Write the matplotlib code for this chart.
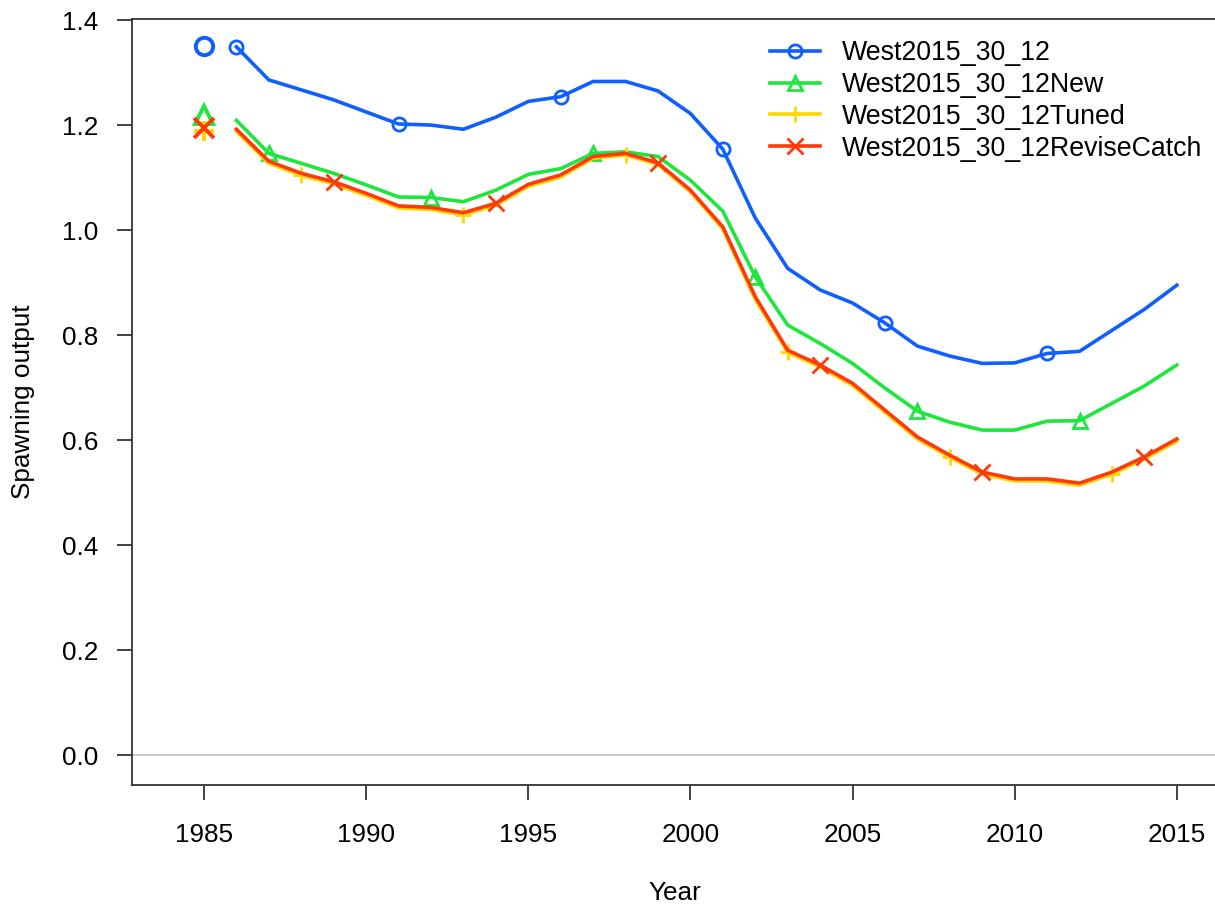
import matplotlib
matplotlib.use("Agg")
import matplotlib.pyplot as plt
import numpy as np

plt.rcParams['font.family'] = ['Liberation Sans', 'DejaVu Sans']

years = list(range(1986, 2016))
virgin_year = 1985

labels = ["West2015_30_12", "West2015_30_12New",
          "West2015_30_12Tuned", "West2015_30_12ReviseCatch"]
colors = ["#0f5fff", "#1ee63c", "#ffd800", "#ff3a0a"]
markers = ["o", "^", "+", "x"]
msizes = [9.5, 10, 12, 11]
offsets = [0, 1, 2, 3]

virgin = [1.350, 1.220, 1.188, 1.195]

base = [1.349, 1.286, 1.267, 1.248, 1.225, 1.202, 1.200, 1.192, 1.215, 1.245,
        1.254, 1.283, 1.283, 1.265, 1.222, 1.154, 1.023, 0.927, 0.886, 0.861,
        0.823, 0.779, 0.760, 0.746, 0.747, 0.765, 0.769, 0.809, 0.849, 0.895]
new = [1.209, 1.146, 1.127, 1.108, 1.086, 1.063, 1.062, 1.054, 1.076, 1.106,
       1.117, 1.146, 1.149, 1.140, 1.095, 1.036, 0.911, 0.819, 0.784, 0.746,
       0.699, 0.655, 0.634, 0.619, 0.619, 0.636, 0.637, 0.670, 0.703, 0.743]
tuned = [1.188, 1.127, 1.104, 1.088, 1.066, 1.042, 1.039, 1.029, 1.047, 1.083,
         1.101, 1.137, 1.143, 1.125, 1.073, 1.002, 0.868, 0.767, 0.739, 0.704,
         0.653, 0.602, 0.567, 0.535, 0.522, 0.522, 0.514, 0.535, 0.564, 0.598]
revise = [1.192, 1.131, 1.108, 1.092, 1.070, 1.046, 1.043, 1.033, 1.051, 1.087,
          1.105, 1.140, 1.146, 1.128, 1.076, 1.006, 0.873, 0.771, 0.743, 0.708,
          0.657, 0.606, 0.571, 0.539, 0.526, 0.526, 0.518, 0.539, 0.568, 0.602]
series = [base, new, tuned, revise]

W, H = 1215, 908
fig = plt.figure(figsize=(W / 100, H / 100), dpi=100)
ax = fig.add_axes([132 / W, (H - 785) / H, (1218 - 132) / W, (785 - 19) / H])

ax.axhline(0, color="#c8c8c8", lw=1.4, zorder=1)

for vals, v0, col, mk, ms, off, lab in zip(series, virgin, colors, markers, msizes, offsets, labels):
    ax.plot(years, vals, color=col, lw=2.6, marker=mk, markevery=(off, 5),
            markersize=ms, markerfacecolor="none", markeredgewidth=2.0,
            label=lab, zorder=3)
    ax.plot([virgin_year], [v0], linestyle="none", color=col, marker=mk,
            markersize=ms + 3, markerfacecolor="none", markeredgewidth=2.8, zorder=3)

ax.set_xlim(1982.78, 2016.27)
ax.set_ylim(-0.057, 1.402)
ax.set_xticks(range(1985, 2016, 5))
ax.set_yticks(np.arange(0, 1.41, 0.2))
ax.set_yticklabels([f"{v:.1f}" for v in np.arange(0, 1.41, 0.2)])

for s in ax.spines.values():
    s.set_color("#333333")
    s.set_linewidth(1.3)
ax.tick_params(direction="out", length=11, width=1.3, color="#333333",
               labelsize=18.8)
ax.tick_params(axis="x", pad=16)
ax.tick_params(axis="y", pad=13)

ax.set_xlabel("Year", fontsize=18.8, labelpad=25)
ax.set_ylabel("Spawning output", fontsize=18.8, labelpad=20)

ax.legend(loc="upper left", bbox_to_anchor=(770 / W, 1 - 40 / H),
          bbox_transform=fig.transFigure, frameon=False, fontsize=19.3,
          handlelength=1.85, handletextpad=0.85, labelspacing=0.22,
          borderpad=0, borderaxespad=0)

fig.savefig("out.png", dpi=100)
